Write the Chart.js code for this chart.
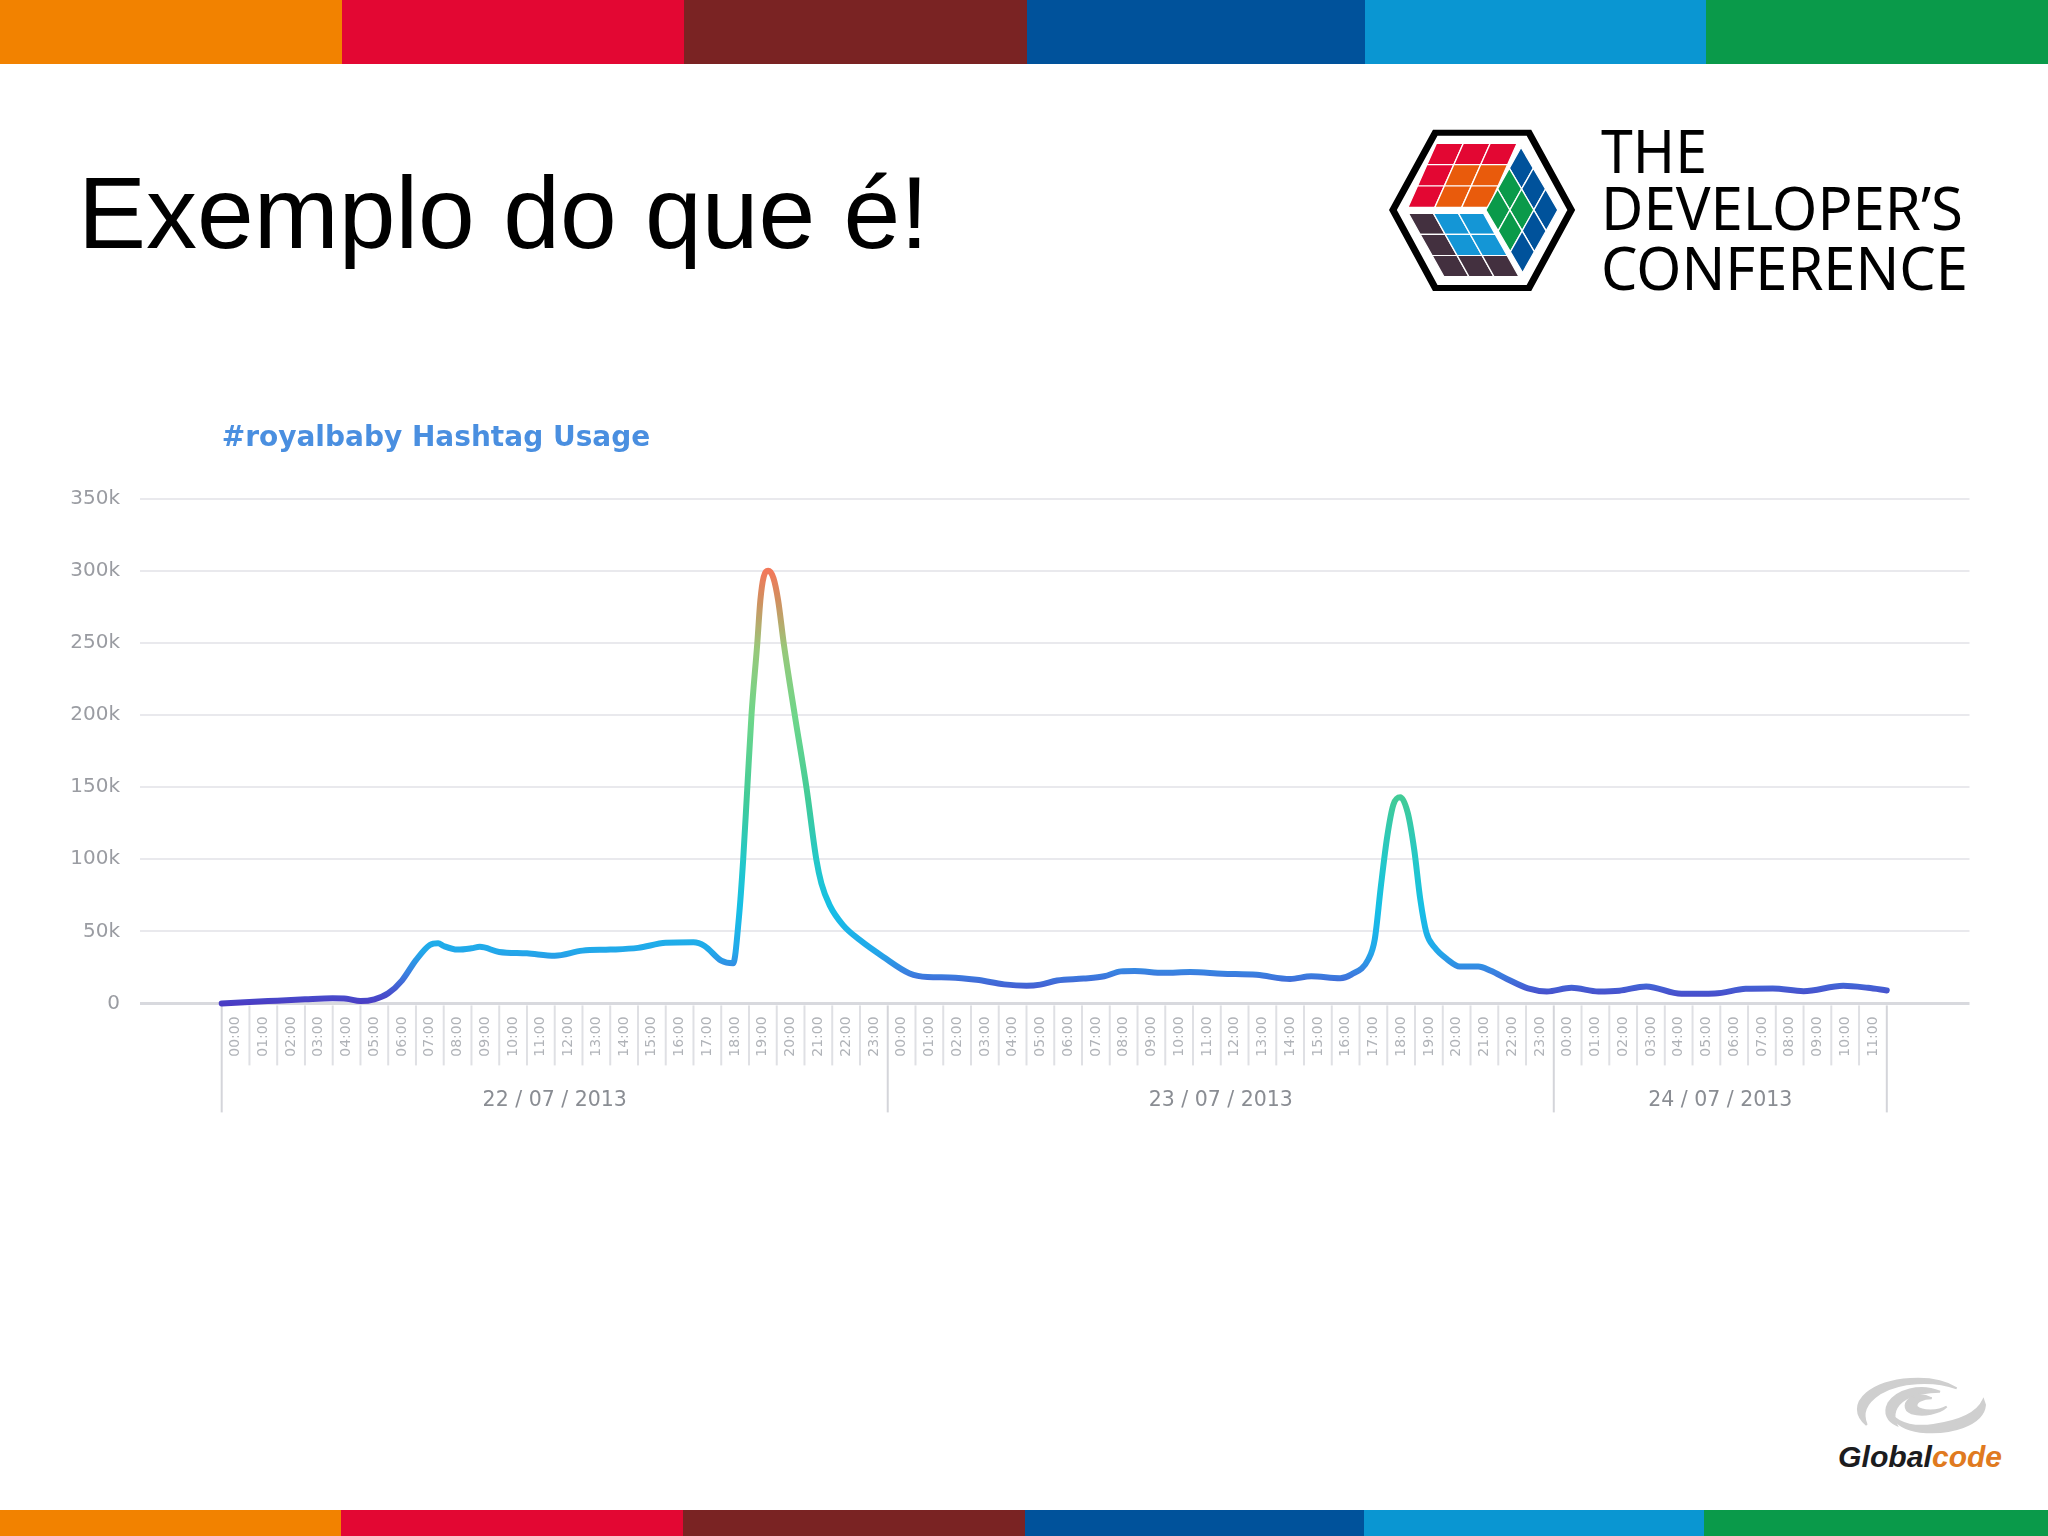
<!DOCTYPE html>
<html>
<head>
<meta charset="utf-8">
<title>Exemplo do que é!</title>
<script src="https://cdn.jsdelivr.net/npm/chart.js@4"></script>
<style>
html,body{margin:0;padding:0;background:#fff;width:2048px;height:1536px;overflow:hidden}
#stage{position:relative;width:2048px;height:1536px}
.bar{position:absolute}
#slideTitle{position:absolute;left:78px;top:155px;font:102px/116px "Liberation Sans",Arial,sans-serif;color:#000;white-space:nowrap}
canvas{position:absolute;left:0;top:0}
svg{position:absolute;left:0;top:0}
</style>
</head>
<body>
<div id="stage">
<div id="slideTitle">Exemplo do que é!</div>
<svg id="logos" width="2048" height="1536" viewBox="0 0 2048 1536" xmlns="http://www.w3.org/2000/svg">
  <g id="cube" transform="translate(1370,110) scale(0.3954,0.3333)"></g>
  <g font-family="'Noto Sans','Open Sans',sans-serif" font-size="61" fill="#000">
    <text x="1601" y="173" textLength="106" lengthAdjust="spacingAndGlyphs">THE</text>
    <text x="1601" y="230" textLength="362" lengthAdjust="spacingAndGlyphs">DEVELOPER’S</text>
    <text x="1601" y="290" textLength="367" lengthAdjust="spacingAndGlyphs">CONFERENCE</text>
  </g>
  <g transform="translate(1800,1350) scale(0.3333)" fill="#cfcfcf" stroke="#cfcfcf" stroke-width="6">
    <path d="M555 165C550 225 450 255 360 245C320 240 290 225 275 195C300 225 350 232 400 225C470 215 530 195 550 150Z"/>
    <path d="M470 115C400 70 260 80 200 130C165 160 165 195 200 225C185 190 195 160 240 130C300 95 400 90 470 115Z"/>
    <path d="M420 125C360 100 290 120 265 160C250 190 265 215 290 225C275 195 285 165 320 145C350 130 390 125 420 125Z"/>
    <path d="M440 170C420 190 370 200 335 190C310 180 310 155 340 140C365 130 385 140 395 145C370 145 345 155 350 170C365 185 415 185 440 170Z"/>
  </g>
  <g font-family="'Liberation Sans',Arial,sans-serif" font-weight="700" font-style="italic" font-size="29">
    <text x="1838" y="1467" fill="#1c1c1e" textLength="94" lengthAdjust="spacingAndGlyphs">Global</text>
    <text x="1932" y="1467" fill="#e07a20" textLength="70" lengthAdjust="spacingAndGlyphs">code</text>
  </g>
</svg>
<canvas id="chart" width="2048" height="1536"></canvas>
</div>
<script>
// ---- data ----
const dayLabels = ['22 / 07 / 2013', '23 / 07 / 2013', '24 / 07 / 2013'];
const dayCentres = [12, 36, 54];
const dayEdges = [0, 24, 48, 60];
const hourLabels = [
  '00:00','01:00','02:00','03:00','04:00','05:00','06:00','07:00','08:00','09:00','10:00','11:00',
  '12:00','13:00','14:00','15:00','16:00','17:00','18:00','19:00','20:00','21:00','22:00','23:00',
  '00:00','01:00','02:00','03:00','04:00','05:00','06:00','07:00','08:00','09:00','10:00','11:00',
  '12:00','13:00','14:00','15:00','16:00','17:00','18:00','19:00','20:00','21:00','22:00','23:00',
  '00:00','01:00','02:00','03:00','04:00','05:00','06:00','07:00','08:00','09:00','10:00','11:00'];
const hourCells = [0,1,2,3,4,5,6,7,8,9,10,11,12,13,14,15,16,17,18,19,20,21,22,23,24,25,26,27,28,29,30,
  31,32,33,34,35,36,37,38,39,40,41,42,43,44,45,46,47,48,49,50,51,52,53,54,55,56,57,58,59,60];
const usageHours = [0,1,2,3,4,4.5,5,5.5,6,6.5,7,7.5,7.8,8,8.5,9,9.3,10,11,12,13,14,15,16,17,17.4,18,18.43,
  18.64,18.79,18.94,19.09,19.3,19.41,19.53,19.69,19.88,20.05,20.25,20.65,21.07,21.43,21.61,21.91,22.39,22.99,23.83,
  24.79,25.43,26.23,27.2,28.2,29,29.5,30.1,31.06,31.8,32.4,32.9,33.95,34.9,36.05,37.3,38.5,39.26,40.3,
  40.7,41.32,41.55,41.77,42,42.22,42.47,42.74,42.97,43.19,43.41,43.71,44.16,44.61,45.28,45.73,46.33,47.07,47.75,
  48.64,49.61,50.36,51.33,52.6,53.8,54.92,55.89,57,58.43,59.32,60];
const usageValues = [0,1000,1900,2800,3500,3200,1600,2800,7000,16000,30000,40500,41700,39800,37300,38200,39200,35700,34700,33100,36600,37300,38500,42000,42400,39800,29600,27800,
  60100,99400,149800,199900,250000,279600,295800,300000,295000,279600,250000,199900,149800,99400,83200,68000,54300,44000,32400,
  20800,18300,18000,16400,13200,12200,13000,15900,17200,18800,22200,22500,21200,21700,20600,19800,16900,18800,17500,
  20000,30600,44500,81300,115900,137800,143000,132000,106700,72100,49000,38700,30600,25600,25600,22600,16800,10400,8300,
  10800,8300,8800,11800,6700,6900,10100,10400,8500,12200,10800,9000];
const yTickValues = [0,50000,100000,150000,200000,250000,300000,350000];
const yTickLabels = ['0','50k','100k','150k','200k','250k','300k','350k'];

// ---- slide decoration ----
const stage = document.getElementById('stage');
const stripeColours = ['#f28200','#e30733','#7a2323','#00529b','#0a96d2','#0a9a4a'];
const topStops = [0,342,684,1027,1365,1706,2048];
const bottomStops = [0,341,683,1025,1364,1704,2048];
function stripes(stops, top, h){
  stripeColours.forEach((c,i)=>{
    const d=document.createElement('div');d.className='bar';
    d.style.cssText=`left:${stops[i]}px;top:${top}px;width:${stops[i+1]-stops[i]}px;height:${h}px;background:${c}`;
    stage.appendChild(d);
  });
}
stripes(topStops,0,64);
stripes(bottomStops,1510,26);

// cube logo
(function(){
  const g=document.getElementById('cube'), NS='http://www.w3.org/2000/svg';
  function add(tag,attrs){const e=document.createElementNS(NS,tag);for(const k in attrs)e.setAttribute(k,attrs[k]);g.appendChild(e);}
  add('polygon',{points:'165,68 402,68 509,300 402,534 165,534 58,300',fill:'#fff',stroke:'#000','stroke-width':18});
  function face(o,u,v,colour){
    for(let a=0;a<3;a++)for(let b=0;b<3;b++){
      const p=(s,t)=>[o[0]+u[0]*(a+s)/3+v[0]*(b+t)/3,o[1]+u[1]*(a+s)/3+v[1]*(b+t)/3].join(',');
      add('polygon',{points:[p(0,0),p(1,0),p(1,1),p(0,1)].join(' '),fill:colour(a,b),stroke:'#fff','stroke-width':3.5});
    }
  }
  face([168,100],[204,0],[-72,192],(a,b)=>(a>=1&&b>=1)?'#e95b0c':'#e30733');
  face([382,112],[93,188],[-89,188],(a,b)=>(b>=1&&a<=1)?'#0a9a4a':'#00529b');
  face([97,310],[190,0],[90,190],(a,b)=>(a>=1&&b<=1)?'#1496d6':'#43303f');
})();

// ---- chart ----
const xMin=-2.944, xMax=62.98;
const separators={
  id:'separators',
  afterLayout(chart){
    // title starts where the first hour cell starts
    const px=chart.scales.x.getPixelForValue(0);
    chart.titleBlock.left=px; chart.titleBlock.right=px+900;
  },
  beforeDatasetsDraw(chart){
    const c=chart.ctx,x=chart.scales.x,y0=chart.scales.y.getPixelForValue(0);
    c.save();
    hourCells.forEach(h=>{
      const edge=dayEdges.includes(h);
      c.beginPath();
      c.strokeStyle=edge?'#d4d5da':'#dfe0e4';
      c.lineWidth=2;
      const px=x.getPixelForValue(h);
      c.moveTo(px,y0+2);c.lineTo(px,y0+(edge?109:62));
      c.stroke();
    });
    c.restore();
  }
};
function lineGradient(context){
  const chart=context.chart,a=chart.chartArea;
  if(!a) return '#2aa';
  const y=chart.scales.y;
  const g=chart.ctx.createLinearGradient(0,y.getPixelForValue(0),0,y.getPixelForValue(300000));
  [[0,'#4a3cc4'],[0.03,'#4658d0'],[0.07,'#3a80e0'],[0.12,'#22a8ea'],[0.22,'#16bfe6'],[0.33,'#24c8c8'],
   [0.47,'#40cb98'],[0.66,'#6ed68a'],[0.82,'#98c87a'],[0.93,'#d09060'],[1,'#f2785a']].forEach(s=>g.addColorStop(s[0],s[1]));
  return g;
}
new Chart(document.getElementById('chart'),{
  type:'line',
  data:{datasets:[{
    label:'#royalbaby Hashtag Usage',
    data:usageHours.map((h,i)=>({x:h,y:usageValues[i]})),
    borderColor:lineGradient,
    borderWidth:6,
    borderCapStyle:'round',
    borderJoinStyle:'round',
    pointRadius:0,
    fill:false,
    cubicInterpolationMode:'monotone',
    clip:false
  }]},
  plugins:[separators],
  options:{
    responsive:false,
    animation:false,
    layout:{padding:{left:0,right:78.5,top:421.5,bottom:418.6}},
    plugins:{
      legend:{display:false},
      tooltip:{enabled:false},
      title:{display:true,text:'#royalbaby Hashtag Usage',align:'start',fullSize:false,
        color:'#4a8fe0',font:{family:'"DejaVu Sans"',size:28,weight:'bold',lineHeight:1.2},
        padding:{top:0,bottom:43.6}}
    },
    scales:{
      x:{type:'linear',position:'bottom',min:xMin,max:xMax,bounds:'data',
        afterBuildTicks:s=>{s.ticks=hourLabels.map((_,i)=>({value:i+0.5}));},
        afterFit:s=>{s.height=64;},
        grid:{display:false},border:{display:false},
        ticks:{autoSkip:false,minRotation:90,maxRotation:90,padding:5,color:'#b0b3b8',
          font:{family:'"DejaVu Sans"',size:14},
          callback:(v,i)=>hourLabels[i]}},
      day:{type:'linear',position:'bottom',min:xMin,max:xMax,bounds:'data',
        afterBuildTicks:s=>{s.ticks=dayCentres.map(v=>({value:v}));},
        afterFit:s=>{s.height=50;},
        grid:{display:false,drawTicks:false},border:{display:false},
        ticks:{autoSkip:false,maxRotation:0,minRotation:0,padding:21,color:'#8a8d93',
          font:{family:'"DejaVu Sans"',size:20.5},
          callback:(v,i)=>dayLabels[i]}},
      y:{type:'linear',position:'left',min:0,max:350000,
        afterBuildTicks:s=>{s.ticks=yTickValues.map(v=>({value:v}));},
        afterFit:s=>{s.width=140;},
        grid:{color:c=>c.tick&&c.tick.value===0?'#d8d9de':'#e9e9ed',lineWidth:c=>c.tick&&c.tick.value===0?3:2,drawTicks:false},
        border:{display:false},
        ticks:{padding:20,color:'#9a9ca2',font:{family:'"DejaVu Sans"',size:20},
          callback:(v,i)=>yTickLabels[i]}}
    }
  }
});
</script>
</body>
</html>
